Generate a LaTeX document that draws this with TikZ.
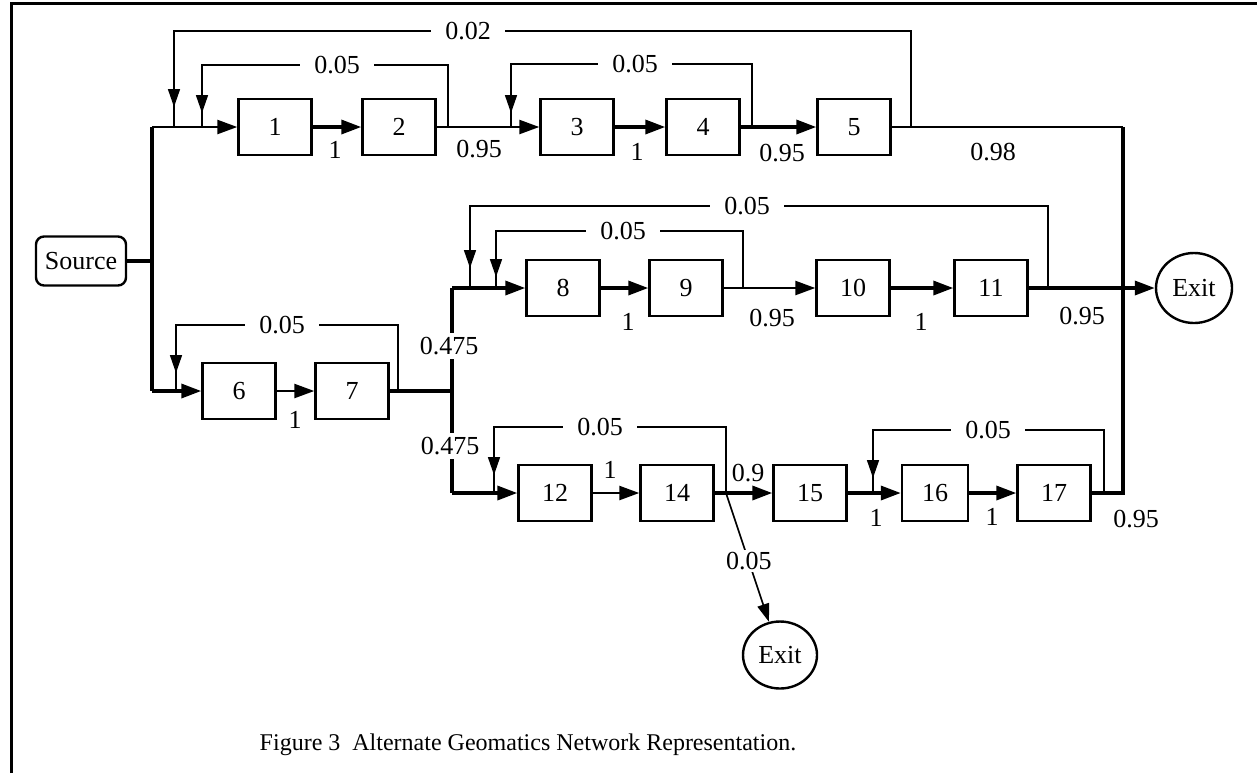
\documentclass[tikz,border=0pt]{standalone}
\usepackage{fontspec}
\setmainfont{Liberation Serif}
\usetikzlibrary{arrows.meta,shapes.geometric}
\newcommand\lblfont{\fontsize{13}{15}\selectfont}
\begin{document}
\begin{tikzpicture}[x=0.5pt,y=-0.5pt,
  box/.style={draw,line width=1.2pt,minimum width=36.5pt,minimum height=28pt,inner sep=0pt,font=\lblfont},
  term/.style={draw,ellipse,line width=1.2pt,minimum width=38pt,minimum height=35pt,inner sep=0pt,font=\lblfont},
  srcbox/.style={draw,rounded corners=4pt,line width=1.2pt,minimum width=45pt,minimum height=24.5pt,inner sep=0pt,font=\lblfont},
  flow/.style={line width=1.7pt},
  flowm/.style={line width=1.2pt},
  fb/.style={line width=0.8pt},
  tipf/.style={-{Triangle[length=10pt,width=7pt]}},
  tipb/.style={-{Triangle[length=9pt,width=6pt]}},
  lbl/.style={font=\lblfont,inner sep=0pt},
  gaplbl/.style={lbl,fill=white,inner xsep=7pt,inner ysep=2pt},
]
\useasboundingbox (0,0) rectangle (1257,773);
% frame
\draw[line width=1.5pt] (11,773) -- (11,3) -- (1257,3);

% nodes
\node[srcbox] (src) at (81,261) {Source};
\node[box] (b1) at (275,127) {1};
\node[box] (b2) at (399,127) {2};
\node[box] (b3) at (577,127) {3};
\node[box] (b4) at (703,127) {4};
\node[box] (b5) at (854,127) {5};
\node[box] (b6) at (239,391) {6};
\node[box] (b7) at (352,391) {7};
\node[box] (b8) at (563,288) {8};
\node[box] (b9) at (686,288) {9};
\node[box] (b10) at (853,288) {10};
\node[box] (b11) at (991,288) {11};
\node[box] (b12) at (555,493) {12};
\node[box] (b14) at (677,493) {14};
\node[box] (b15) at (810,493) {15};
\node[box,minimum width=33pt] (b16) at (935,493) {16};
\node[box] (b17) at (1054,493) {17};
\node[term] (ex1) at (1194,288) {Exit};
\node[term,minimum width=37pt,minimum height=33.5pt] (ex2) at (780,655) {Exit};

% junction points
\coordinate (sj) at (152,261);
\coordinate (sT) at (152,127);
\coordinate (sB) at (152,391);
\coordinate (j7) at (452,391);
\coordinate (jT) at (452,288);
\coordinate (jB) at (452,493);
\coordinate (r5) at (1123,127);
\coordinate (r17) at (1123,493);

% main flow
\draw[flow] (src.east) -- (sj);
\draw[flow] (sT) -- (sB);
\draw[flowm,tipf] (sT) -- (b1.west);
\draw[flow,tipf] (sB) -- (b6.west);
\draw[flow,tipf] (b1) -- (b2);
\draw[flowm,tipf] (b2) -- (b3);
\draw[flow,tipf] (b3) -- (b4);
\draw[flow,tipf] (b4) -- (b5);
\draw[flowm] (b5.east) -- (r5);
\draw[flow] (r5) -- (r17) -- (b17.east);
\draw[flowm,tipf] (b6) -- (b7);
\draw[flow] (b7.east) -- (j7);
\draw[flow] (jT) -- (jB);
\draw[flow,tipf] (jT) -- (b8.west);
\draw[flow,tipf] (jB) -- (b12.west);
\draw[flow,tipf] (b8) -- (b9);
\draw[flowm,tipf] (b9) -- (b10);
\draw[flow,tipf] (b10) -- (b11);
\draw[flow,tipf] (b11) -- (ex1);
\draw[flowm,tipf] (b12) -- (b14);
\draw[flow,tipf] (b14) -- (b15);
\draw[flow,tipf] (b15) -- (b16);
\draw[flow,tipf] (b16) -- (b17);

% branch probabilities
\node[gaplbl] at (449,346) {0.475};
\node[gaplbl] at (450,446) {0.475};
\node[lbl] at (335,150) {1};
\node[lbl] at (479,149) {0.95};
\node[lbl] at (637,152) {1};
\node[lbl] at (782,153) {0.95};
\node[lbl] at (993,152) {0.98};
\node[lbl] at (295,420) {1};
\node[lbl] at (628,322) {1};
\node[lbl] at (772,318) {0.95};
\node[lbl] at (921,322) {1};
\node[lbl] at (1082,316) {0.95};
\node[lbl] at (610,470) {1};
\node[lbl] at (748,473) {0.9};
\node[lbl] at (876,518) {1};
\node[lbl] at (992,517) {1};
\node[lbl] at (1136,519) {0.95};

% rework loops
\coordinate (fa1) at (911,127);  \coordinate (ft1) at (174,127);
\coordinate (fa2) at (448,127);  \coordinate (ft2) at (202,127);
\coordinate (fa3) at (752,127);  \coordinate (ft3) at (511,127);
\coordinate (fa4) at (398,391);  \coordinate (ft4) at (176,391);
\coordinate (fa5) at (1048,288); \coordinate (ft5) at (470,288);
\coordinate (fa6) at (743,288);  \coordinate (ft6) at (496,288);
\coordinate (fa7) at (726,493);  \coordinate (ft7) at (494,493);
\coordinate (fa8) at (1104,493); \coordinate (ft8) at (873,493);

\draw[fb] (fa1) |- (468,31) node[gaplbl]{0.02} -| (ft1);
\draw[fb,tipb] (ft1) ++(0,-46) -- ++(0,26);
\draw[fb] (fa2) |- (337,65) node[gaplbl]{0.05} -| (ft2);
\draw[fb,tipb] (ft2) ++(0,-40) -- ++(0,26);
\draw[fb] (fa3) |- (635,64) node[gaplbl]{0.05} -| (ft3);
\draw[fb,tipb] (ft3) ++(0,-40) -- ++(0,26);
\draw[fb] (fa4) |- (282,325) node[gaplbl]{0.05} -| (ft4);
\draw[fb,tipb] (ft4) ++(0,-44) -- ++(0,26);
\draw[fb] (fa5) |- (747,206) node[gaplbl]{0.05} -| (ft5);
\draw[fb,tipb] (ft5) ++(0,-46) -- ++(0,26);
\draw[fb] (fa6) |- (623,231) node[gaplbl]{0.05} -| (ft6);
\draw[fb,tipb] (ft6) ++(0,-37) -- ++(0,26);
\draw[fb] (fa7) |- (600,427) node[gaplbl]{0.05} -| (ft7);
\draw[fb,tipb] (ft7) ++(0,-44) -- ++(0,26);
\draw[fb] (fa8) |- (988,430) node[gaplbl]{0.05} -| (ft8);
\draw[fb,tipb] (ft8) ++(0,-41) -- ++(0,26);

% scrap leaving after task 14
\draw[fb,tipb] (fa7) -- node[gaplbl,inner sep=1pt,pos=0.53]{0.05} (ex2);

% caption
\node[font=\fontsize{12}{14}\selectfont] (cap) at (528,745) {Figure 3\ \ Alternate Geomatics Network Representation.};
\end{tikzpicture}
\end{document}
